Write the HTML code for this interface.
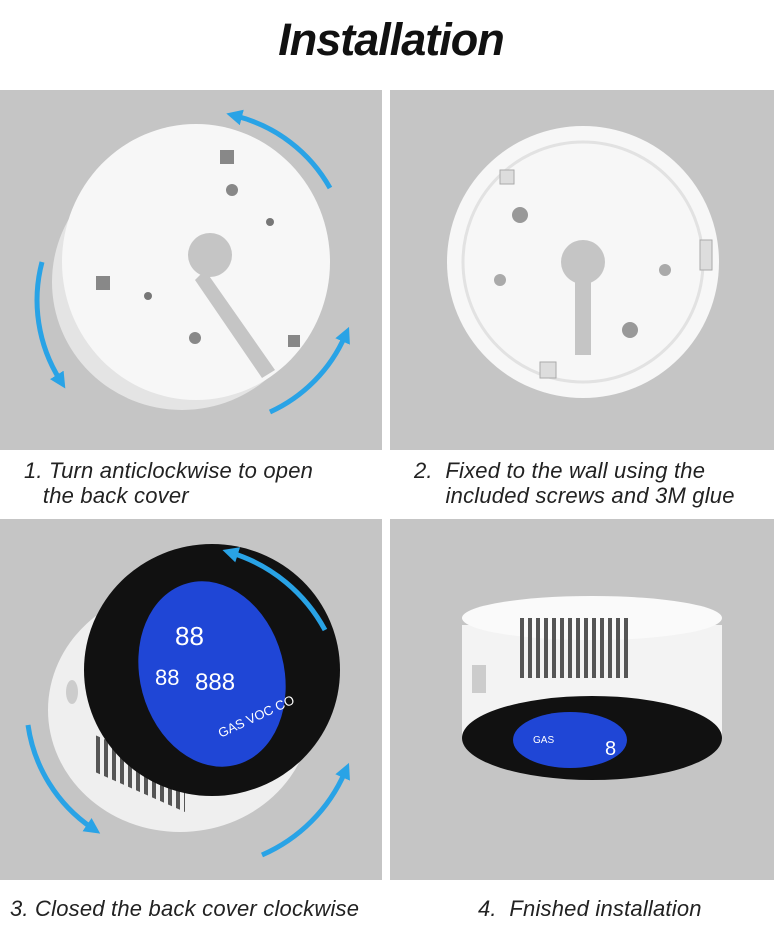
<!DOCTYPE html>
<html><head><meta charset="utf-8"><style>
body{margin:0;width:782px;height:936px;background:#fff;position:relative;overflow:hidden;font-family:"Liberation Sans",sans-serif}
.t{position:absolute;left:0;width:782px;top:14px;text-align:center;font-size:45px;font-weight:bold;font-style:italic;color:#111;letter-spacing:-1px}
.p{position:absolute;background:#c5c5c5}
.c{position:absolute;font-size:22px;font-style:italic;color:#222;line-height:25px;letter-spacing:0.2px}
svg{position:absolute;left:0;top:0}
</style></head><body>
<div class="t">Installation</div>
<div class="p" style="left:0;top:90px;width:382px;height:360px"></div>
<div class="p" style="left:390px;top:90px;width:384px;height:360px"></div>
<div class="p" style="left:0;top:519px;width:382px;height:361px"></div>
<div class="p" style="left:390px;top:519px;width:384px;height:361px"></div>
<svg width="782" height="936">
<defs>
<marker id="a" markerUnits="userSpaceOnUse" markerWidth="16" markerHeight="16" refX="6" refY="8" orient="auto"><path d="M0,0L16,8L0,16z" fill="#29a3e6"/></marker>
<marker id="b" markerUnits="userSpaceOnUse" markerWidth="16" markerHeight="16" refX="10" refY="8" orient="auto"><path d="M16,0L0,8L16,16z" fill="#29a3e6"/></marker>
<pattern id="v" width="8" height="10" patternUnits="userSpaceOnUse"><rect width="4" height="10" fill="#555"/></pattern>
</defs>
<ellipse cx="182" cy="282" rx="130" ry="128" fill="#e4e4e4"/>
<ellipse cx="196" cy="262" rx="134" ry="138" fill="#f7f7f7"/>
<circle cx="210" cy="255" r="22" fill="#c5c5c5"/>
<path d="M205,270 L275,370 L262,378 L195,280z" fill="#c5c5c5"/>
<circle cx="232" cy="190" r="6" fill="#888"/><circle cx="195" cy="338" r="6" fill="#888"/><circle cx="270" cy="222" r="4" fill="#777"/><circle cx="148" cy="296" r="4" fill="#777"/>
<rect x="220" y="150" width="14" height="14" fill="#888"/><rect x="96" y="276" width="14" height="14" fill="#888"/><rect x="288" y="335" width="12" height="12" fill="#888"/>
<path d="M236,116 A150,150 0 0 1 330,188" stroke="#29a3e6" stroke-width="5" fill="none" marker-start="url(#b)"/>
<path d="M42,262 A150,150 0 0 0 60,380" stroke="#29a3e6" stroke-width="5" fill="none" marker-end="url(#a)"/>
<path d="M270,412 A150,150 0 0 0 345,336" stroke="#29a3e6" stroke-width="5" fill="none" marker-end="url(#a)"/>
<circle cx="583" cy="262" r="136" fill="#f7f7f7"/>
<circle cx="583" cy="262" r="120" fill="none" stroke="#e2e2e2" stroke-width="3"/>
<circle cx="583" cy="262" r="22" fill="#c5c5c5"/>
<rect x="575" y="275" width="16" height="80" fill="#c5c5c5"/>
<circle cx="520" cy="215" r="8" fill="#999"/><circle cx="630" cy="330" r="8" fill="#999"/><circle cx="500" cy="280" r="6" fill="#aaa"/><circle cx="665" cy="270" r="6" fill="#aaa"/>
<rect x="500" y="170" width="14" height="14" fill="#ddd" stroke="#aaa"/><rect x="540" y="362" width="16" height="16" fill="#ddd" stroke="#aaa"/><rect x="700" y="240" width="12" height="30" fill="#ddd" stroke="#aaa"/>
<ellipse cx="180" cy="710" rx="132" ry="122" fill="#efefef"/>
<path d="M95,735 L185,775 L185,812 L95,772z" fill="url(#v)"/>
<ellipse cx="212" cy="670" rx="128" ry="126" fill="#111"/>
<ellipse cx="212" cy="674" rx="72" ry="94" fill="#1f46d6" transform="rotate(-15 212 674)"/>
<text x="175" y="645" fill="#fff" font-size="26" font-family="Liberation Sans">88</text>
<text x="155" y="685" fill="#fff" font-size="22" font-family="Liberation Sans">88</text>
<text x="195" y="690" fill="#fff" font-size="24" font-family="Liberation Sans">888</text>
<text x="215" y="728" fill="#fff" font-size="13" font-family="Liberation Sans" transform="rotate(-25 240 720)">GAS VOC CO</text>
<ellipse cx="72" cy="692" rx="6" ry="12" fill="#ccc"/>
<path d="M232,553 A160,160 0 0 1 325,630" stroke="#29a3e6" stroke-width="5" fill="none" marker-start="url(#b)"/>
<path d="M28,725 A150,150 0 0 0 92,828" stroke="#29a3e6" stroke-width="5" fill="none" marker-end="url(#a)"/>
<path d="M262,855 A160,160 0 0 0 345,772" stroke="#29a3e6" stroke-width="5" fill="none" marker-end="url(#a)"/>
<path d="M462,625 L722,625 L722,740 L462,740z" fill="#f3f3f3"/>
<ellipse cx="592" cy="618" rx="130" ry="22" fill="#fafafa"/>
<rect x="520" y="618" width="110" height="60" fill="url(#v)"/>
<rect x="472" y="665" width="14" height="28" fill="#ccc"/>
<ellipse cx="592" cy="738" rx="130" ry="42" fill="#111"/>
<ellipse cx="570" cy="740" rx="57" ry="28" fill="#1f46d6"/>
<text x="533" y="743" fill="#fff" font-size="10" font-family="Liberation Sans">GAS</text>
<text x="605" y="755" fill="#fff" font-size="20" font-family="Liberation Sans">8</text>
</svg>
<div class="c" style="left:24px;top:458px">1. Turn anticlockwise to open<br>&nbsp;&nbsp;&nbsp;the back cover</div>
<div class="c" style="left:414px;top:458px">2.&nbsp; Fixed to the wall using the<br>&nbsp;&nbsp;&nbsp;&nbsp;&nbsp;included screws and 3M glue</div>
<div class="c" style="left:10px;top:896px">3. Closed the back cover clockwise</div>
<div class="c" style="left:478px;top:896px">4.&nbsp; Fnished installation</div>
</body></html>
